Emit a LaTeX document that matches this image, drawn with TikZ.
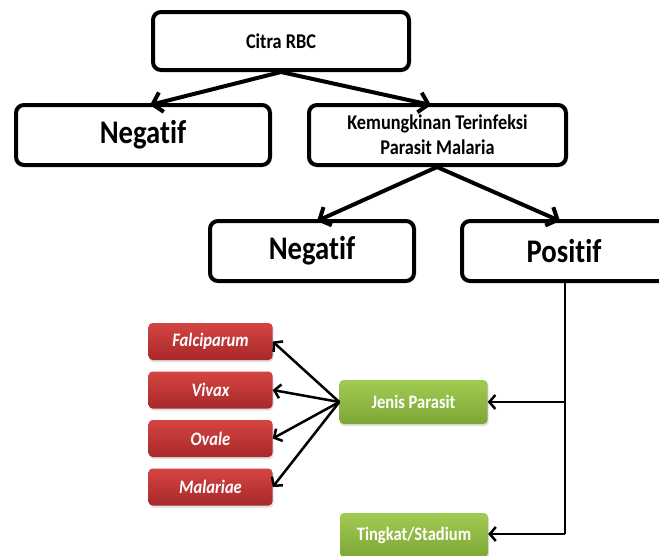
\documentclass[tikz,border=0pt]{standalone}
\usepackage{fontspec}
\setmainfont{Carlito}[FakeStretch=0.87, RawFeature=-liga]
\usetikzlibrary{arrows.meta,shadows,positioning}
\definecolor{redtop}{HTML}{D44542}
\definecolor{redbot}{HTML}{A8282A}
\definecolor{greentop}{HTML}{A2CB52}
\definecolor{greenbot}{HTML}{7EA636}
\tikzset{
  bbox/.style={draw=black, line width=4pt, rounded corners=8pt, fill=white, align=center, font=\bfseries},
  redbox/.style={rounded corners=4pt, top color=redtop, bottom color=redbot, draw=none,
    text=white, font=\fontsize{19}{22}\selectfont\bfseries\itshape,
    drop shadow={shadow xshift=1pt, shadow yshift=-2pt, opacity=0.25}},
  greenbox/.style={rounded corners=4pt, top color=greentop, bottom color=greenbot, draw=none,
    text=white, font=\fontsize{19}{22}\selectfont\bfseries,
    drop shadow={shadow xshift=1pt, shadow yshift=-2pt, opacity=0.25}},
  bigarrow/.style={line width=4pt, -{Straight Barb[length=9pt,width=20pt,line width=4pt]}},
  midarrow/.style={line width=2.5pt, -{Straight Barb[length=6pt,width=14pt,line width=2.5pt]}},
}
\begin{document}
\begin{tikzpicture}[x=1pt,y=-1pt]
\useasboundingbox (0,0) rectangle (659,555);
% black boxes
\node[bbox, minimum width=256pt, minimum height=58pt, font=\fontsize{21}{25}\selectfont\bfseries] (citra) at (281,41) {Citra RBC};
\node[bbox, minimum width=254pt, minimum height=60pt, font=\fontsize{33}{36}\selectfont\bfseries] (neg1) at (143,135) {Negatif};
\node[bbox, minimum width=257pt, minimum height=60pt, font=\fontsize{21}{25}\selectfont\bfseries] (kem) at (437.5,135) {Kemungkinan Terinfeksi\\Parasit Malaria};
\node[bbox, minimum width=204pt, minimum height=60pt, font=\fontsize{33}{36}\selectfont\bfseries] (neg2) at (312,251) {Negatif};
\node[bbox, minimum width=236pt, minimum height=60pt, font=\fontsize{33}{36}\selectfont\bfseries] (pos) at (580,251) {};
\node[font=\fontsize{33}{36}\selectfont\bfseries] (postxt) at (564,251) {Positif};
% green boxes
\node[greenbox, minimum width=148pt, minimum height=44pt] (jenis) at (413.5,402) {Jenis Parasit};
\node[greenbox, minimum width=148pt, minimum height=44pt] (ting) at (414,535) {Tingkat/Stadium};
% red boxes
\node[redbox, minimum width=124pt, minimum height=37pt] (fal) at (210.5,341.5) {Falciparum};
\node[redbox, minimum width=124pt, minimum height=37pt] (viv) at (210.5,390) {Vivax};
\node[redbox, minimum width=124pt, minimum height=37pt] (ova) at (210.5,438.5) {Ovale};
\node[redbox, minimum width=124pt, minimum height=37pt] (mal) at (210.5,487) {Malariae};
% top arrows
\coordinate (cb) at (281,72);
\coordinate (kb) at (437,167);
\draw[bigarrow] (cb) -- (150,105);
\draw[bigarrow] (cb) -- (431,105);
\draw[bigarrow] (kb) -- (317,221);
\draw[bigarrow] (kb) -- (560,221);
% positif branch
\coordinate (pb) at (565,283);
\coordinate (pj) at (565,402);
\coordinate (pt) at (565,534);
\draw[line width=2.5pt] (pb) -- (pt);
\draw[midarrow] (pj) -- (jenis.east);
\draw[midarrow] (pt) -- (ting.east |- pt);
% jenis to red boxes
\coordinate (jw) at (jenis.west);
\draw[midarrow] (jw) -- (fal.east);
\draw[midarrow] (jw) -- (viv.east);
\draw[midarrow] (jw) -- (ova.east);
\draw[midarrow] (jw) -- (mal.east);
\end{tikzpicture}
\end{document}
